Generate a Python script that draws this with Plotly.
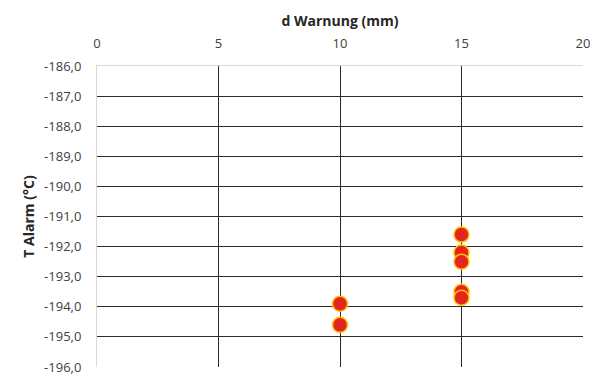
import plotly.graph_objects as go

d_warnung = [10, 10, 15, 15, 15, 15, 15]
t_alarm = [-193.9, -194.6, -191.6, -192.2, -192.5, -193.5, -193.7]

x_ticks = [0, 5, 10, 15, 20]
y_ticks = [-186, -187, -188, -189, -190, -191, -192, -193, -194, -195, -196]
y_labels = ["-186,0", "-187,0", "-188,0", "-189,0", "-190,0", "-191,0",
            "-192,0", "-193,0", "-194,0", "-195,0", "-196,0"]

fig = go.Figure()
fig.add_trace(go.Scatter(
    x=d_warnung, y=t_alarm, mode="markers",
    marker=dict(size=15, color="#e3241f", line=dict(color="#ffc000", width=1.5)),
    showlegend=False, cliponaxis=False,
))

font = "Open Sans, Liberation Sans, sans-serif"
fig.update_layout(
    width=592, height=378,
    margin=dict(l=89, r=17, t=58, b=19),
    paper_bgcolor="white", plot_bgcolor="white",
    font=dict(family=font, size=13, color="#404040"),
    xaxis=dict(
        side="top", range=[0, 20], tickvals=x_ticks, automargin=False,
        showgrid=True, gridcolor="#2b2b2b", gridwidth=1,
        zeroline=False, showline=True, linecolor="#d9d9d9", linewidth=1,
        ticks="", ticklabelstandoff=12, tickfont=dict(size=13, color="#404040"),
        title=dict(text="<b>d Warnung (mm)</b>", font=dict(size=14, color="#262626"), standoff=3),
    ),
    yaxis=dict(
        range=[-196, -186], tickvals=y_ticks, ticktext=y_labels, automargin=False,
        showgrid=True, gridcolor="#2b2b2b", gridwidth=1,
        zeroline=False, showline=True, linecolor="#d9d9d9", linewidth=1,
        ticks="", ticklabelstandoff=12, tickfont=dict(size=13, color="#404040"),
        title=dict(text="<b>T Alarm (°C)</b>", font=dict(size=14, color="#262626"), standoff=6),
    ),
)

fig.write_html("out.html")
